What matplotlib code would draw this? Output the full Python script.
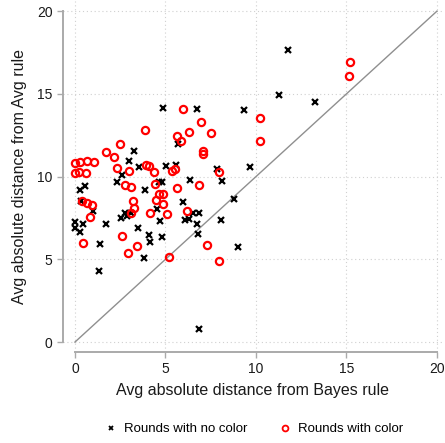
import matplotlib
matplotlib.use("Agg")
import matplotlib.pyplot as plt
from matplotlib.lines import Line2D

plt.rcParams['font.family'] = ['Liberation Sans', 'DejaVu Sans']

# Rounds with no color (black x)
nocolor_x = [4.85, 6.72, 9.32, 11.77, 11.29, 13.28, 3.24, 2.97, 3.55, 5.01,
             5.58, 5.67, 2.60, 2.30, 0.53, 0.28, 3.87, 4.62, 4.81, 6.35,
             8.12, 7.83, 9.67, 5.99, 8.78, 6.54, 6.87, 6.09, 6.31, 8.08,
             6.76, 4.68, 4.81, 6.81, 8.99, 6.83, 1.01, 2.54, 2.74, 2.89,
             4.51, 0.00, 0.42, 0.00, 0.28, 1.71, 3.46, 4.07, 4.14, 1.38,
             3.81, 1.31, 3.11, 0.35]
nocolor_y = [14.12, 14.08, 14.03, 17.65, 14.95, 14.50, 11.53, 10.96, 10.58, 10.66,
             10.73, 11.99, 10.09, 9.69, 9.46, 9.22, 9.16, 9.70, 9.68, 9.77,
             9.71, 10.45, 10.59, 8.49, 8.66, 7.78, 7.78, 7.37, 7.41, 7.37,
             7.12, 7.31, 6.38, 6.56, 5.75, 0.81, 7.95, 7.50, 7.82, 7.62,
             8.02, 7.25, 7.13, 6.89, 6.65, 7.13, 6.92, 6.48, 6.04, 5.92,
             5.08, 4.29, 7.78, 8.50]

# Rounds with color (red hollow circles)
color_x = [3.89, 2.49, 1.70, 2.17, 0.00, 0.29, 0.66, 1.03, 2.33, 3.00,
           3.93, 4.10, 4.36, 0.00, 0.24, 0.59, 2.74, 3.11, 4.40, 4.66,
           4.87, 5.98, 6.94, 10.22, 6.28, 7.51, 5.65, 5.84, 10.22, 7.09,
           7.09, 5.36, 5.51, 7.94, 5.64, 6.83, 0.39, 0.68, 0.94, 0.83,
           3.19, 3.26, 3.11, 4.46, 4.89, 5.08, 4.13, 2.62, 0.42, 3.41,
           2.93, 5.18, 6.17, 7.27, 7.94, 15.19, 15.15]
color_y = [12.79, 11.95, 11.46, 11.18, 10.82, 10.86, 10.92, 10.86, 10.49, 10.31,
           10.70, 10.62, 10.29, 10.19, 10.25, 10.19, 9.51, 9.38, 9.54, 8.93,
           8.95, 14.08, 13.27, 13.55, 12.67, 12.63, 12.46, 12.14, 12.13, 11.53,
           11.38, 10.32, 10.48, 10.25, 9.32, 9.52, 8.50, 8.42, 8.30, 7.57,
           8.55, 8.10, 7.78, 8.61, 8.37, 7.77, 7.79, 6.39, 5.96, 5.83,
           5.36, 5.14, 7.93, 5.84, 4.90, 16.93, 16.08]

ticks = [0, 5, 10, 15, 20]
tick_labels = ['0', '5', '10', '15', '20']
diag = [0, 20]

W, H = 445, 443
fig = plt.figure(figsize=(W / 100, H / 100), dpi=100)
ax = fig.add_axes([63 / W, (H - 352) / H, 379.4 / W, 350.8 / H])

ax.set_xlim(-0.66, 20.3)
ax.set_ylim(-0.6, 20.6)

grid_c = '#d0d0d0'
for t in ticks:
    ax.axvline(t, color=grid_c, lw=0.8, ls=(0, (1, 2.5)), zorder=0)
    ax.axhline(t, color=grid_c, lw=0.8, ls=(0, (1, 2.5)), zorder=0)

ax.plot(diag, diag, color='#8f8f8f', lw=1.0, zorder=1)

ax.plot(nocolor_x, nocolor_y, ls='none', marker='x', color='black',
        ms=4.3, mew=1.6, zorder=2)
ax.plot(color_x, color_y, ls='none', marker='o', mfc='none', mec='#ff0000',
        ms=5.2, mew=1.6, zorder=3)

for s in ['top', 'right']:
    ax.spines[s].set_visible(False)
for s in ['left', 'bottom']:
    ax.spines[s].set_visible(True)
    ax.spines[s].set_color('#aaaaaa')
    ax.spines[s].set_linewidth(1.4)
    ax.spines[s].set_bounds(0, 20)

ax.set_xticks(ticks)
ax.set_yticks(ticks)
ax.set_xticklabels(tick_labels, fontsize=10, color='#1a1a1a')
ax.set_yticklabels(tick_labels, fontsize=10, color='#1a1a1a')
ax.tick_params(axis='both', direction='out', length=4.5, width=1.0,
               color='#aaaaaa', pad=3)

ax.set_xlabel('Avg absolute distance from Bayes rule', fontsize=11.5,
              color='#1a1a1a', labelpad=5)
ax.set_ylabel('Avg absolute distance from Avg rule', fontsize=11.5,
              color='#1a1a1a', labelpad=7)

handles = [
    Line2D([], [], ls='none', marker='x', color='black', ms=3.2, mew=1.3),
    Line2D([], [], ls='none', marker='o', mfc='none', mec='#ff0000', ms=4.2, mew=1.3),
]
fig.legend(handles, ['Rounds with no color', 'Rounds with color'],
           loc='center', bbox_to_anchor=(253 / W, 1 - 429 / H), ncol=2,
           frameon=False, fontsize=9.5, handletextpad=0.4, columnspacing=2.2,
           handlelength=1.2)

fig.savefig('out.png', dpi=100)
